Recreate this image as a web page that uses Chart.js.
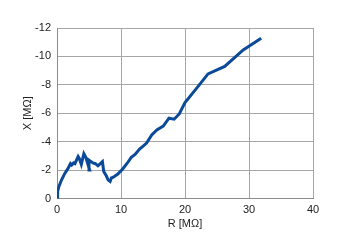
<!DOCTYPE html>
<html lang="en">
<head>
    <meta charset="utf-8">
    <title>R - X</title>
    <script src="https://cdn.jsdelivr.net/npm/chart.js@4.4.0/dist/chart.umd.min.js"></script>
    <style>
        html, body { margin: 0; padding: 0; background: #ffffff; }
    </style>
</head>
<body>
    <canvas id="myChart" width="350" height="244"></canvas>

    <script>
        // R [MΩ] and X [MΩ]
        const rValues = [0, 0.1, 0.3, 0.7, 1.2, 1.7, 2.1, 2.3, 2.6, 2.8, 3.3, 3.5, 3.8, 4.2, 4.5, 4.7, 5.1, 5.0, 5.6, 6.0,
            6.4, 7.1, 7.3, 7.7, 8.0, 8.3, 8.5, 8.8, 9.5, 10.3, 11.0, 11.6, 12.2, 12.9, 13.5, 14.0, 14.8, 15.6, 16.6,
            17.5, 18.3, 19.1, 20.0, 21.8, 23.6, 26.2, 29.1, 31.9]
        const xValues = [0, -0.5, -0.85, -1.3, -1.75, -2.1, -2.45, -2.35, -2.5, -2.45, -2.95, -2.8, -2.4, -3.15, -2.9,
            -2.6, -2.0, -2.7, -2.5, -2.45, -2.3, -2.6, -1.9, -1.6, -1.3, -1.2, -1.45, -1.5, -1.72, -2.1, -2.5, -2.9,
            -3.1, -3.48, -3.7, -3.9, -4.47, -4.82, -5.1, -5.65, -5.58, -5.95, -6.75, -7.75, -8.77, -9.3, -10.46, -11.28]

        const rTicks = [0, 10, 20, 30, 40]
        const xTicks = [0, -2, -4, -6, -8, -10, -12]

        const points = rValues.map((r, i) => ({ x: r, y: xValues[i] }))

        const font = { family: 'Liberation Sans, Arial, sans-serif', size: 11 }
        const textColor = '#222222'
        const gridColor = '#a6a6a6'

        const config = {
            type: 'scatter',
            data: {
                datasets: [{
                    data: points,
                    showLine: true,
                    borderColor: '#0b4a98',
                    borderWidth: 3,
                    pointRadius: 0,
                    tension: 0,
                    fill: false
                }]
            },
            options: {
                responsive: false,
                animation: false,
                layout: { padding: { top: 28, right: 37, left: 0, bottom: 0 } },
                plugins: { legend: { display: false }, tooltip: { enabled: false } },
                scales: {
                    x: {
                        type: 'linear',
                        min: 0,
                        max: 40,
                        afterBuildTicks: (scale) => { scale.ticks = rTicks.map(v => ({ value: v })) },
                        afterFit: (scale) => { scale.height = 45.5 },
                        grid: { color: gridColor, drawTicks: false },
                        border: { color: '#8c8c8c' },
                        ticks: { font: font, color: textColor, padding: 5 },
                        title: { display: true, text: 'R [MΩ]', font: font, color: textColor, padding: { top: 0, bottom: 13 } }
                    },
                    y: {
                        type: 'linear',
                        reverse: true,
                        min: -12,
                        max: 0,
                        afterBuildTicks: (scale) => { scale.ticks = xTicks.map(v => ({ value: v })) },
                        afterFit: (scale) => { scale.width = 57 },
                        grid: { color: gridColor, drawTicks: false },
                        border: { color: '#8c8c8c' },
                        ticks: { font: font, color: textColor, padding: 6 },
                        title: { display: true, text: 'X [MΩ]', font: font, color: textColor, padding: { top: 21, bottom: 0 } }
                    }
                }
            }
        }

        const myChart = new Chart(document.getElementById('myChart'), config)
    </script>
</body>
</html>
